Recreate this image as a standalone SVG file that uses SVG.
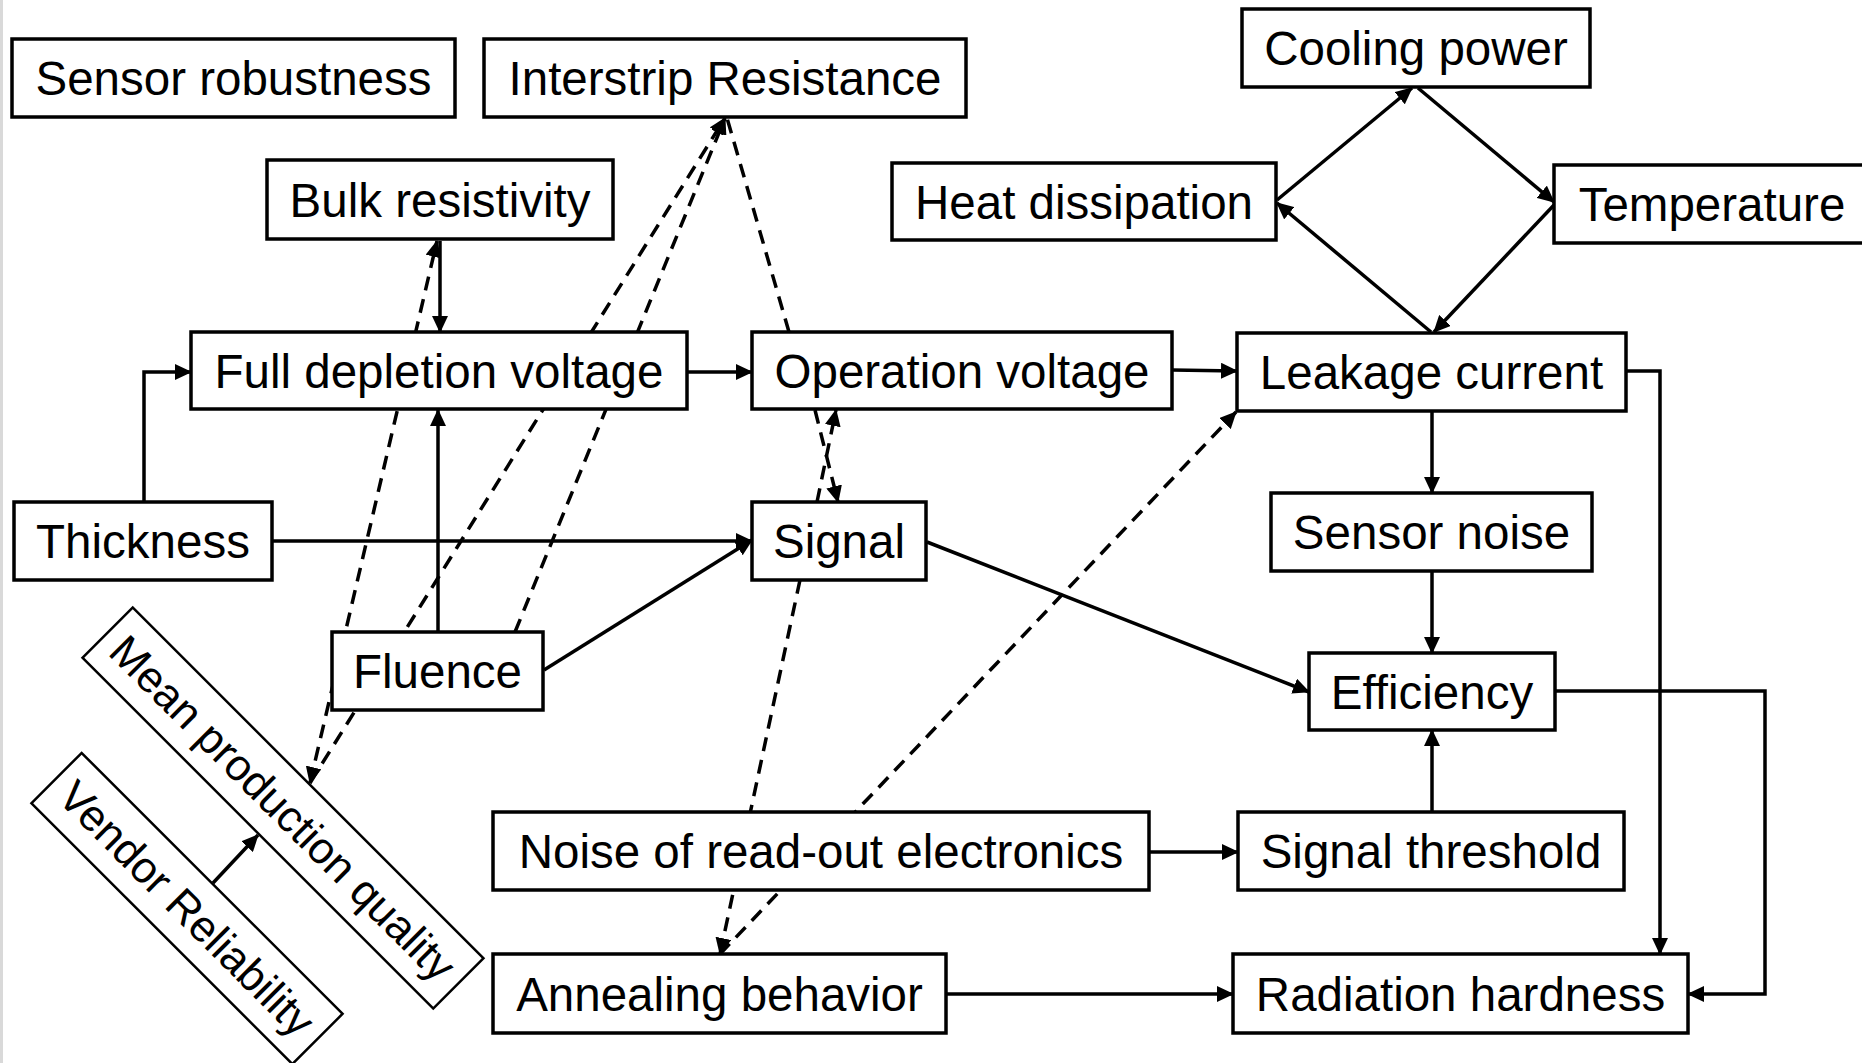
<svg xmlns="http://www.w3.org/2000/svg" width="1862" height="1063" viewBox="0 0 1862 1063">
<style>
.box{fill:#fff;stroke:#000;stroke-width:3.5}
.rbox{fill:#fff;stroke:#000;stroke-width:2.5}
.lbl{font-family:"Liberation Sans",Arial,sans-serif;font-size:47.5px;fill:#000;text-anchor:middle}
.rlbl{font-size:44px}
.c{fill:none;stroke:#000;stroke-width:3.5}
.d{fill:none;stroke:#000;stroke-width:3.5;stroke-dasharray:14 9}
</style>
<defs>
<marker id="ah" markerUnits="userSpaceOnUse" viewBox="0 0 17 16" markerWidth="17" markerHeight="16" refX="16" refY="8" orient="auto-start-reverse">
<path d="M0,0 L17,8 L0,16 z" fill="#000"/>
</marker>
</defs>
<rect x="0" y="0" width="1862" height="1063" fill="#fff"/>
<rect x="0" y="0" width="3" height="1063" fill="#d9d9d9"/>

<g id="connectors">
<path class="d" d="M310,783 L437,241" marker-start="url(#ah)" marker-end="url(#ah)"/>
<path class="d" d="M310,783 L725,118" marker-end="url(#ah)"/>
<path class="d" d="M515,632 L725,118" marker-end="url(#ah)"/>
<path class="d" d="M789,332 L727,118"/>
<path class="d" d="M815,410 L838,502" marker-end="url(#ah)"/>
<path class="d" d="M817,502 L836,410" marker-end="url(#ah)"/>
<path class="d" d="M800,580 L720,954" marker-end="url(#ah)"/>
<path class="d" d="M720,954 L1236,412" marker-end="url(#ah)"/>
<path class="c" d="M144,502 V372 H191" marker-end="url(#ah)"/>
<path class="c" d="M272,541 H752" marker-end="url(#ah)"/>
<path class="c" d="M438,632 V410" marker-end="url(#ah)"/>
<path class="c" d="M544,670 L752,540" marker-end="url(#ah)"/>
<path class="c" d="M687,372 H752" marker-end="url(#ah)"/>
<path class="c" d="M1172,370 L1237,371" marker-end="url(#ah)"/>
<path class="c" d="M440,241 V332" marker-end="url(#ah)"/>
<path class="c" d="M1277,200 L1412,88" marker-end="url(#ah)"/>
<path class="c" d="M1418,88 L1554,202" marker-end="url(#ah)"/>
<path class="c" d="M1554,205 L1434,332" marker-end="url(#ah)"/>
<path class="c" d="M1431,332 L1277,203" marker-end="url(#ah)"/>
<path class="c" d="M1432,411 V493" marker-end="url(#ah)"/>
<path class="c" d="M1432,571 V653" marker-end="url(#ah)"/>
<path class="c" d="M1432,812 V730" marker-end="url(#ah)"/>
<path class="c" d="M1149,852 H1238" marker-end="url(#ah)"/>
<path class="c" d="M946,994 H1233" marker-end="url(#ah)"/>
<path class="c" d="M927,542 L1309,692" marker-end="url(#ah)"/>
<path class="c" d="M1626,371 H1660 V954" marker-end="url(#ah)"/>
<path class="c" d="M1555,691 H1765 V994 H1688" marker-end="url(#ah)"/>
<path class="c" d="M213,883 L258,835" marker-end="url(#ah)"/>
</g>

<g id="n-sensor-robustness"><rect class="box" x="12" y="39" width="443" height="78"/><text class="lbl" x="233.5" y="95">Sensor robustness</text></g>
<g id="n-interstrip"><rect class="box" x="484" y="39" width="482" height="78"/><text class="lbl" x="725" y="95">Interstrip Resistance</text></g>
<g id="n-bulk"><rect class="box" x="267" y="160" width="346" height="79"/><text class="lbl" x="440" y="217">Bulk resistivity</text></g>
<g id="n-fdv"><rect class="box" x="191" y="332" width="496" height="77"/><text class="lbl" x="439" y="388">Full depletion voltage</text></g>
<g id="n-opv"><rect class="box" x="752" y="332" width="420" height="77"/><text class="lbl" x="962" y="388">Operation voltage</text></g>
<g id="n-cooling"><rect class="box" x="1242" y="9" width="348" height="78"/><text class="lbl" x="1416" y="65">Cooling power</text></g>
<g id="n-heat"><rect class="box" x="892" y="163" width="384" height="77"/><text class="lbl" x="1084" y="219">Heat dissipation</text></g>
<g id="n-temp"><rect class="box" x="1554" y="165" width="320" height="78"/><text class="lbl" x="1712" y="221">Temperature</text></g>
<g id="n-leakage"><rect class="box" x="1237" y="333" width="389" height="78"/><text class="lbl" x="1431.5" y="389">Leakage current</text></g>
<g id="n-thickness"><rect class="box" x="14" y="502" width="258" height="78"/><text class="lbl" x="143" y="558">Thickness</text></g>
<g id="n-signal"><rect class="box" x="752" y="502" width="174" height="78"/><text class="lbl" x="839" y="558">Signal</text></g>
<g id="n-fluence"><rect class="box" x="332" y="632" width="211" height="78"/><text class="lbl" x="437.5" y="688">Fluence</text></g>
<g id="n-noise-ro"><rect class="box" x="493" y="812" width="656" height="78"/><text class="lbl" x="821" y="868">Noise of read-out electronics</text></g>
<g id="n-annealing"><rect class="box" x="493" y="954" width="453" height="79"/><text class="lbl" x="719.5" y="1011">Annealing behavior</text></g>
<g id="n-sensor-noise"><rect class="box" x="1271" y="493" width="321" height="78"/><text class="lbl" x="1431.5" y="549">Sensor noise</text></g>
<g id="n-efficiency"><rect class="box" x="1309" y="653" width="246" height="77"/><text class="lbl" x="1432" y="709">Efficiency</text></g>
<g id="n-threshold"><rect class="box" x="1238" y="812" width="386" height="78"/><text class="lbl" x="1431" y="868">Signal threshold</text></g>
<g id="n-radiation"><rect class="box" x="1233" y="954" width="455" height="79"/><text class="lbl" x="1460.5" y="1011">Radiation hardness</text></g>
<g id="n-mean-prod" transform="translate(283,808) rotate(45)"><rect class="rbox" x="-248" y="-35.5" width="496" height="71"/><text class="lbl rlbl" x="0" y="15.5">Mean production quality</text></g>
<g id="n-vendor" transform="translate(187,908.5) rotate(45)"><rect class="rbox" x="-184.5" y="-35.5" width="369" height="71"/><text class="lbl rlbl" x="0" y="15.5">Vendor Reliability</text></g>
</svg>
